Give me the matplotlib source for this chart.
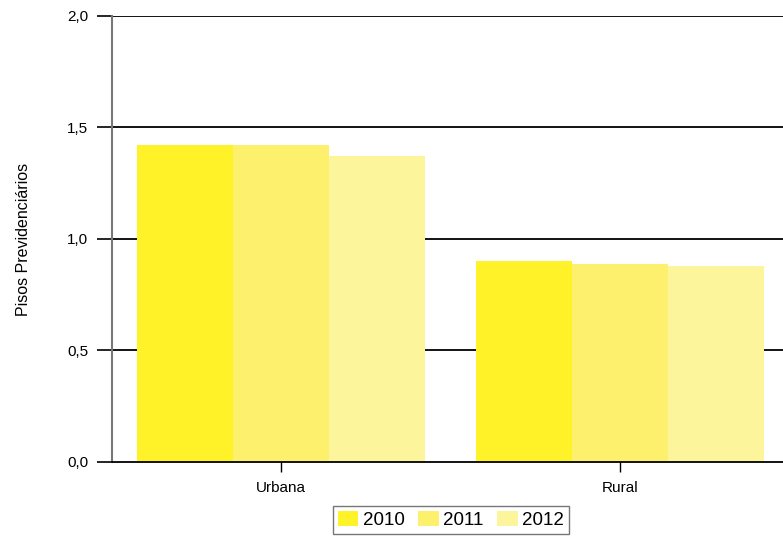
import numpy as np
import matplotlib
matplotlib.use("Agg")
import matplotlib.pyplot as plt

# data
categories = ["Urbana", "Rural"]
years = ["2010", "2011", "2012"]
v2010 = [1.42, 0.90]
v2011 = [1.42, 0.89]
v2012 = [1.37, 0.88]
colors = ["#fff229", "#fcf06d", "#fdf59b"]

plt.rcParams["font.family"] = ["Liberation Sans", "DejaVu Sans"]

fig = plt.figure(figsize=(7.83, 5.38), dpi=100)
ax = fig.add_axes([0.143, 0.1413, 0.857, 0.829])

x = np.arange(len(categories))
w = 0.283
for i, (vals, lab) in enumerate(zip([v2010, v2011, v2012], years)):
    ax.bar(x + (i - 1) * w, vals, width=w, color=colors[i], label=lab,
           zorder=3, linewidth=0)

ax.set_ylim(0, 2.0)
ax.set_xlim(-0.4985, 1.481)
ax.set_yticks([0, 0.5, 1.0, 1.5, 2.0])
ax.set_yticklabels(["0,0", "0,5", "1,0", "1,5", "2,0"])
ax.set_xticks(x)
ax.set_xticklabels(categories)
ax.tick_params(axis="y", length=11, width=1.2, color="black", labelsize=11,
               pad=6)
ax.tick_params(axis="x", length=7, width=1.0, color="black", labelsize=11,
               pad=7)
for y in [0.5, 1.0, 1.5, 2.0]:
    ax.axhline(y, color="black", lw=1.3, zorder=2)

ax.spines["top"].set_visible(False)
ax.spines["right"].set_visible(False)
ax.spines["left"].set_color("#777777")
ax.spines["left"].set_linewidth(1.5)
ax.spines["bottom"].set_color("black")
ax.spines["bottom"].set_linewidth(1.3)
ax.spines["bottom"].set_zorder(4)

ax.set_ylabel("Pisos Previdenciários", fontsize=11.5, labelpad=26)

fig.legend(loc="center", bbox_to_anchor=(0.576, 0.034), ncol=3,
           fontsize=13.5, frameon=True, fancybox=False, edgecolor="#555555",
           handlelength=1.1, handleheight=0.9, handletextpad=0.25,
           columnspacing=0.7, borderpad=0.25, borderaxespad=0)

fig.savefig("out.png", dpi=100)
